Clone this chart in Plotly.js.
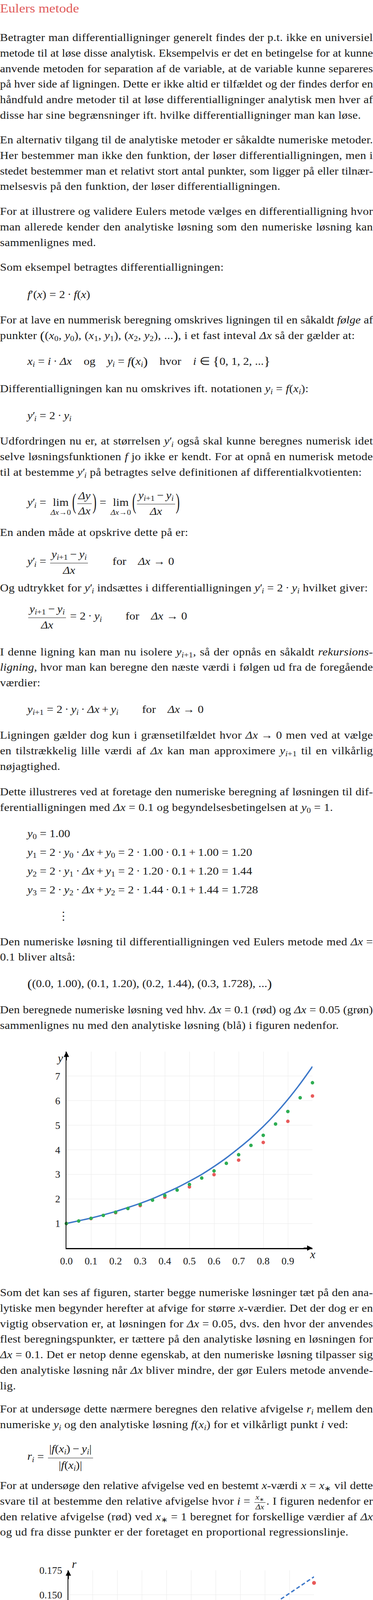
<!DOCTYPE html>
<html lang="da">
<head>
<meta charset="utf-8">
<title>Eulers metode</title>
<script src="https://cdn.plot.ly/plotly-3.0.1.min.js"></script>
<style>
html,body{margin:0;padding:0;background:#fff;}
#page{position:relative;width:955px;height:5994px;overflow:hidden;font-family:"Liberation Serif",serif;font-size:27.5px;color:#1a1a1a;background:#fff;}
.a{position:absolute;left:0;width:868px;line-height:40px;white-space:normal;letter-spacing:0.3px;transform:scaleX(1.1);transform-origin:0 0;}
.j{text-align:justify;text-align-last:justify;}
.e{left:70px;width:auto;white-space:nowrap;letter-spacing:0;}
.title{color:#e05a5a;font-size:32px;letter-spacing:0;}
i{font-style:italic;}
sub{font-size:0.7em;vertical-align:-0.28em;line-height:1;}
.m{display:inline-block;white-space:nowrap;}
.R{margin:0 0.26em;}
.B{margin:0 0.2em;}
.k{margin-left:-0.12em;}
.q{margin:0 1.0em;}
.qq{margin-left:2.0em;margin-right:1.0em;}
.p1{font-size:1.18em;line-height:1;vertical-align:-0.05em;}
.fr{display:inline-block;vertical-align:middle;text-align:center;line-height:1.1;margin:0 2px;}
.fr>span{display:block;padding-left:3px;padding-right:3px;}
.fr>.n{border-bottom:1.3px solid #1a1a1a;padding-bottom:5px;}
.fr>.d{padding-top:3px;}
.sf{font-size:0.7em;line-height:1;}
.sf>.n{padding-bottom:1px;border-bottom-width:1px;}
.sf>.d{padding-top:1px;}
.lim{display:inline-flex;flex-direction:column;align-items:center;vertical-align:baseline;line-height:1;margin:0 3px;}
.lim .ls{font-size:0.68em;margin-top:3px;}
.bp{display:inline-block;transform:scaleY(2.1);transform-origin:50% 15.9px;line-height:27px;}
.mk{display:inline-block;width:0;height:0;}
.chart{position:absolute;left:0;width:955px;}
</style>
</head>
<body>
<div id="page">
  <div id="c1" class="chart" style="top:2640px;height:640px"></div>
  <div id="c2" class="chart" style="top:3970px;height:560px"></div>
  <div id="c3" class="chart" style="top:5380px;height:560px"></div>
</div>
<script>
// ---------------- chart data ----------------
// Chart 1: analytic solution (blue), Euler dx=0.1 (red), Euler dx=0.05 (green)
const xExact = [0,0.05,0.1,0.15,0.2,0.25,0.3,0.35,0.4,0.45,0.5,0.55,0.6,0.65,0.7,0.75,0.8,0.85,0.9,0.95,1.0];
const yExact = [1.00,1.11,1.22,1.35,1.49,1.65,1.82,2.01,2.23,2.46,2.72,3.00,3.32,3.67,4.06,4.48,4.95,5.47,6.05,6.69,7.39];
const xRed = [0,0.1,0.2,0.3,0.4,0.5,0.6,0.7,0.8,0.9,1.0];
const yRed = [1.00,1.20,1.44,1.73,2.07,2.49,2.99,3.58,4.30,5.16,6.19];
const xGreen = [0,0.05,0.1,0.15,0.2,0.25,0.3,0.35,0.4,0.45,0.5,0.55,0.6,0.65,0.7,0.75,0.8,0.85,0.9,0.95,1.0];
const yGreen = [1.00,1.10,1.21,1.33,1.46,1.61,1.77,1.95,2.14,2.36,2.59,2.85,3.14,3.45,3.80,4.18,4.59,5.05,5.56,6.12,6.73];
const xTicks1 = [0,0.1,0.2,0.3,0.4,0.5,0.6,0.7,0.8,0.9,1.0];
const xLabels1 = ['0.0','0.1','0.2','0.3','0.4','0.5','0.6','0.7','0.8','0.9',''];
const yTicks1 = [0,1,2,3,4,5,6,7,8];
const yLabels1 = ['','1','2','3','4','5','6','7',''];

// Chart 2: relative error r vs dx
const dxVals = [0.01,0.02,0.04,0.05,0.1];
const rVals = [0.0195,0.0382,0.0732,0.0896,0.1622];
const xTicks2 = [0,0.01,0.02,0.03,0.04,0.05,0.06,0.07,0.08,0.09,0.1];
const xLabels2 = ['0.00','0.01','0.02','0.03','0.04','0.05','0.06','0.07','0.08','0.09',''];
const yTicks2 = [0,0.025,0.05,0.075,0.1,0.125,0.15,0.175];
const yLabels2 = ['','0.025','0.050','0.075','0.100','0.125','0.150','0.175'];

// Chart 3: relative error r vs n
const nVals = [10,20,25,50,100];
const rByN = [0.1622,0.0896,0.0732,0.0382,0.0195];
const nCurve = [10,12,14,16,18,20,25,30,35,40,50,60,70,80,90,100];
const rCurve = [0.1684,0.1403,0.1203,0.1052,0.0935,0.0842,0.0674,0.0561,0.0481,0.0421,0.0337,0.0281,0.0241,0.0210,0.0187,0.0168];
const xTicks3 = [0,10,20,30,40,50,60,70,80,90,100];
const xLabels3 = ['0','10','20','30','40','50','60','70','80','90','100'];

// ---------------- text ----------------
const DX='<i>Δx</i>';
const YI='<i>y</i><sub><i>i</i></sub>';
const YPI='<i>y</i>′<sub class="k"><i>i</i></sub>';
const YI1='<i>y</i><sub><i>i</i>+1</sub>';
const XI='<i>x</i><sub><i>i</i></sub>';
const FXI='<i>f</i>(<i>x</i><sub><i>i</i></sub>)';
const XS='<i>x</i><sub>∗</sub>';
const EQ='<span class="R">=</span>';
const DOT='<span class="B">·</span>';
const PLUS='<span class="B">+</span>';
const MINUS='<span class="B">−</span>';
const TO='<span class="R">→</span>';
const M=s=>'<span class="m">'+s+'</span>';
const FR=(n,d)=>'<span class="fr"><span class="n">'+n+'</span><span class="d">'+d+'</span></span>';
const SFR=(n,d)=>'<span class="fr sf"><span class="n">'+n+'</span><span class="d">'+d+'</span></span>';
const LIM='<span class="lim"><span>lim</span><span class="ls">'+DX+'→0</span></span>';
const BL='<span class="bp">(</span>', BR='<span class="bp">)</span>';
const T=' ';
const Y=n=>'<i>y</i><sub>'+n+'</sub>';

const LH=39.8;
const blocks=[
 {b:32,title:true,lines:['Eulers metode']},
 {b:105,lines:[
  'Betragter man differentialligninger generelt findes der p.t. ikke en universiel',
  'metode til at løse disse analytisk. Eksempelvis er det en betingelse for at kunne',
  'anvende metoden for separation af de variable, at de variable kunne separeres',
  'på hver side af ligningen. Dette er ikke altid er tilfældet og der findes derfor en',
  'håndfuld andre metoder til at løse differentialligninger analytisk men hver af',
  'disse har sine begrænsninger ift. hvilke differentialligninger man kan løse.']},
 {b:367,lines:[
  'En alternativ tilgang til de analytiske metoder er såkaldte numeriske metoder.',
  'Her bestemmer man ikke den funktion, der løser differentialligningen, men i',
  'stedet bestemmer man et relativt stort antal punkter, som ligger på eller tilnær-',
  'melsesvis på den funktion, der løser differentialligningen.']},
 {b:550,lines:[
  'For at illustrere og validere Eulers metode vælges en differentialligning hvor',
  'man allerede kender den analytiske løsning som den numeriske løsning kan',
  'sammenlignes med.']},
 {b:693,lines:['Som eksempel betragtes differentialligningen:']},
 {b:762.5,eq:'<i>f</i>′(<i>x</i>)'+EQ+'2'+DOT+'<i>f</i>(<i>x</i>)'},
 {b:828,lines:[
  'For at lave en nummerisk beregning omskrives ligningen til en såkaldt <i>følge</i> af',
  'punkter '+M('<span class="p1">(</span>(<i>x</i><sub>0</sub>,'+T+Y(0)+'),'+T+'(<i>x</i><sub>1</sub>,'+T+Y(1)+'),'+T+'(<i>x</i><sub>2</sub>,'+T+Y(2)+'),'+T+'...<span class="p1">)</span>')+', i et fast inteval '+M(DX)+' så der gælder at:']},
 {b:934.4,eq:XI+EQ+'<i>i</i>'+DOT+DX+'<span class="q">og</span>'+YI+EQ+'<i>f</i><span class="p1">(</span>'+XI+'<span class="p1">)</span><span class="q">hvor</span><i>i</i><span class="R">∈</span><span class="p1">{</span>0,'+T+'1,'+T+'2,'+T+'...<span class="p1">}</span>'},
 {b:1003.6,lines:['Differentialligningen kan nu omskrives ift. notationen '+M(YI+EQ+FXI)+':']},
 {b:1072.8,eq:YPI+EQ+'2'+DOT+YI},
 {b:1138.4,lines:[
  'Udfordringen nu er, at størrelsen '+M(YPI)+' også skal kunne beregnes numerisk idet',
  'selve løsningsfunktionen '+M('<i>f</i>')+' jo ikke er kendt. For at opnå en numerisk metode',
  'til at bestemme '+M(YPI)+' på betragtes selve definitionen af differentialkvotienten:']},
 {b:1295,eq:YPI+EQ+LIM+BL+FR('<i>Δy</i>',DX)+BR+EQ+LIM+BL+FR(YI1+MINUS+YI,DX)+BR},
 {b:1372,lines:['En anden måde at opskrive dette på er:']},
 {b:1446,eq:YPI+EQ+FR(YI1+MINUS+YI,DX)+'<span class="qq">for</span>'+DX+TO+'0'},
 {b:1513.5,lines:['Og udtrykket for '+M(YPI)+' indsættes i differentialligningen '+M(YPI+EQ+'2'+DOT+YI)+' hvilket giver:']},
 {b:1586,eq:FR(YI1+MINUS+YI,DX)+EQ+'2'+DOT+YI+'<span class="qq">for</span>'+DX+TO+'0'},
 {b:1677.6,lines:[
  'I denne ligning kan man nu isolere '+M(YI1)+', så der opnås en såkaldt <i>rekursions-</i>',
  '<i>ligning</i>, hvor man kan beregne den næste værdi i følgen ud fra de foregående',
  'værdier:']},
 {b:1825,eq:YI1+EQ+'2'+DOT+YI+DOT+DX+PLUS+YI+'<span class="qq">for</span>'+DX+TO+'0'},
 {b:1891,lines:[
  'Ligningen gælder dog kun i grænsetilfældet hvor '+M(DX+TO+'0')+' men ved at vælge',
  'en tilstrækkelig lille værdi af '+M(DX)+' kan man approximere '+M(YI1)+' til en vilkårlig',
  'nøjagtighed.']},
 {b:2035.7,lines:[
  'Dette illustreres ved at foretage den numeriske beregning af løsningen til dif-',
  'ferentialligningen med '+M(DX+EQ+'0.1')+' og begyndelsesbetingelsen at '+M(Y(0)+EQ+'1')+'.']},
 {b:2143,eq:Y(0)+EQ+'1.00'},
 {b:2191,eq:Y(1)+EQ+'2'+DOT+Y(0)+DOT+DX+PLUS+Y(0)+EQ+'2'+DOT+'1.00'+DOT+'0.1'+PLUS+'1.00'+EQ+'1.20'},
 {b:2239,eq:Y(2)+EQ+'2'+DOT+Y(1)+DOT+DX+PLUS+Y(1)+EQ+'2'+DOT+'1.20'+DOT+'0.1'+PLUS+'1.20'+EQ+'1.44'},
 {b:2287,eq:Y(3)+EQ+'2'+DOT+Y(2)+DOT+DX+PLUS+Y(2)+EQ+'2'+DOT+'1.44'+DOT+'0.1'+PLUS+'1.44'+EQ+'1.728'},
 {b:2354,eq:'<span style="font-family:\'DejaVu Serif\';font-size:28px">⋮</span>',left:147},
 {b:2419.6,lines:[
  'Den numeriske løsning til differentialligningen ved Eulers metode med '+M(DX+'<span class="R" style="margin-right:0">=</span>'),
  '0.1 bliver altså:']},
 {b:2527,eq:'<span class="p1">(</span>(0.0,'+T+'1.00),'+T+'(0.1,'+T+'1.20),'+T+'(0.2,'+T+'1.44),'+T+'(0.3,'+T+'1.728),'+T+'...<span class="p1">)</span>'},
 {b:2593.8,lines:[
  'Den beregnede numeriske løsning ved hhv. '+M(DX+EQ+'0.1')+' (rød) og '+M(DX+EQ+'0.05')+' (grøn)',
  'sammenlignes nu med den analytiske løsning (blå) i figuren nedenfor.']},
 {b:3318,lines:[
  'Som det kan ses af figuren, starter begge numeriske løsninger tæt på den ana-',
  'lytiske men begynder herefter at afvige for større '+M('<i>x</i>')+'-værdier. Det der dog er en',
  'vigtig observation er, at løsningen for '+M(DX+EQ+'0.05')+', dvs. den hvor der anvendes',
  'flest beregningspunkter, er tættere på den analytiske løsning en løsningen for',
  M(DX+EQ+'0.1')+'. Det er netop denne egenskab, at den numeriske løsning tilpasser sig',
  'den analytiske løsning når '+M(DX)+' bliver mindre, der gør Eulers metode anvende-',
  'lig.']},
 {b:3616,lines:[
  'For at undersøge dette nærmere beregnes den relative afvigelse '+M('<i>r</i><sub><i>i</i></sub>')+' mellem den',
  'numeriske '+M(YI)+' og den analytiske løsning '+M(FXI)+' for et vilkårligt punkt '+M('<i>i</i>')+' ved:']},
 {b:3737.5,eq:'<i>r</i><sub><i>i</i></sub>'+EQ+FR('|'+FXI+MINUS+YI+'|','|'+FXI+'|')},
 {b:3812,lines:[
  'For at undersøge den relative afvigelse ved en bestemt '+M('<i>x</i>')+'-værdi '+M('<i>x</i>'+EQ+XS)+' vil dette',
  'svare til at bestemme den relative afvigelse hvor '+M('<i>i</i>'+EQ+SFR(XS,DX))+'. I figuren nedenfor er',
  'den relative afvigelse (rød) ved '+M(XS+EQ+'1')+' beregnet for forskellige værdier af '+M(DX),
  'og ud fra disse punkter er der foretaget en proportional regressionslinje.']},
 {b:4581,lines:[
  'Det ses, at den relative afvigelse er tilnærmelsesvis proportional med størrelsen',
  'på '+M(DX)+' hvilket viser, at man ved Eulers metode kan opnå en vilkårlig lav fejl ved',
  'at vælge en tilstrækkelig lav værdi af '+M(DX)+'.']},
 {b:4723,lines:[
  'Så hvorfor vælger man så ikke en virkelig lav værdi for '+M(DX)+' for at være sikker',
  'på at man har så nøjagtig en beregning som muligt? Grunden til dette er, at jo',
  'lavere en værdi man vælger for '+M(DX)+', jo flere punkter skal man beregne for at',
  'nå frem til en bestemt '+M('<i>x</i>')+'-værdi. Antallet af punkter '+M('<i>n</i>')+' der skal beregnes for at',
  'løsningen når frem til en bestemt '+M('<i>x</i>')+'-værdi '+M(XS)+' kan beregnes ved:']},
 {b:4950.7,eq:'<i>n</i>'+EQ+FR(XS,DX)},
 {b:5018.6,lines:[
  'Heraf ses at '+M(DX)+' forekommer i nævneren hvilket vil sige at når '+M(DX)+' bliver en lille',
  'talværdi bliver '+M('<i>n</i>')+' stor en stor talværdi.']},
 {b:5120.4,lines:[
  'Størrelsen af '+M('<i>n</i>')+' dvs. hvor mange punkter der skal beregnes i den numeriske',
  'løsning er med andre ord prisen for den numeriske beregning da den direkte',
  'kan omsættes til hvor lang tid og hvor meget strøm en computer bruger for at',
  'beregne løsningen.']},
 {b:5305,lines:[
  'Den relative afvigelse er i nedenstående figur plottet ift. antallet af beregnings-',
  'punkter '+M('<i>n</i>')+' for forskellige værdier af '+M(DX)+'.']}
];

const page=document.getElementById('page');
const placed=[];
blocks.forEach(bk=>{
  if(bk.eq!==undefined){
    const d=document.createElement('div');
    d.className='a e';
    d.innerHTML=bk.eq;
    if(bk.left!==undefined) d.style.left=bk.left+'px';
    page.appendChild(d);
    placed.push([d,bk.b]);
  } else {
    bk.lines.forEach((ln,k)=>{
      const d=document.createElement('div');
      const last=(k===bk.lines.length-1);
      d.className='a'+(bk.title?' title':'')+(last?'':' j');
      d.innerHTML=ln;
      page.appendChild(d);
      placed.push([d,bk.b+k*LH]);
    });
  }
});
function fit(el){
  let ls=0.3, fs=27.5;
  while(el.offsetHeight>50 && ls>-0.5){ls-=0.1;el.style.letterSpacing=ls+'px';}
  while(el.offsetHeight>50 && fs>22){fs-=0.5;el.style.fontSize=fs+'px';}
}
function layoutText(){
  placed.forEach(([el,b])=>{
    el.style.top='0px';
    if(!el.classList.contains('e') && !el.classList.contains('title')) fit(el);
    let mk=el.querySelector(':scope > .mk');
    if(!mk){mk=document.createElement('span');mk.className='mk';el.insertBefore(mk,el.firstChild);}
    const r0=el.getBoundingClientRect().top, r1=mk.getBoundingClientRect().top;
    el.style.top=(b-(r1-r0))+'px';
  });
}
layoutText();
if(document.fonts && document.fonts.ready){document.fonts.ready.then(layoutText);}

// ---------------- charts ----------------
const MF='Liberation Serif';
const TF={family:MF,size:26,color:'#1a1a1a'};
const BLUE='#3d78c9', RED='#e85a5a', GREEN='#2ead52';
function axisBase(){return {showgrid:true,gridcolor:'#ebebeb',gridwidth:1,zeroline:false,showline:true,linecolor:'#000',linewidth:2.5,ticks:'',tickfont:TF,fixedrange:true,layer:'above traces'};}
function arrow(x,y,ax,ay){return {x:x,y:y,xref:'x',yref:'y',ax:ax,ay:ay,axref:'pixel',ayref:'pixel',text:'',showarrow:true,arrowhead:2,arrowsize:1.1,arrowwidth:2.5,arrowcolor:'#000',standoff:0,startstandoff:0};}
function lab(x,y,t,xs,ys){return {x:x,y:y,xref:'x',yref:'y',text:t,showarrow:false,xshift:xs,yshift:ys,font:{family:MF,size:30,color:'#1a1a1a'},xanchor:'center',yanchor:'middle'};}
const cfg={staticPlot:true,displayModeBar:false,responsive:false};

Plotly.newPlot('c1',[
  {x:xExact,y:yExact,mode:'lines',line:{color:BLUE,width:3.5,shape:'spline'},hoverinfo:'skip'},
  {x:xRed,y:yRed,mode:'markers',marker:{color:RED,size:9},cliponaxis:false},
  {x:xGreen,y:yGreen,mode:'markers',marker:{color:GREEN,size:9},cliponaxis:false}
],{
  width:955,height:640,margin:{l:170,r:155,t:52,b:85},showlegend:false,
  paper_bgcolor:'rgba(0,0,0,0)',plot_bgcolor:'#fff',
  xaxis:Object.assign(axisBase(),{range:[0,1],tickmode:'array',tickvals:xTicks1,ticktext:xLabels1,ticklabelstandoff:8}),
  yaxis:Object.assign(axisBase(),{range:[0,8],tickmode:'array',tickvals:yTicks1,ticktext:yLabels1,ticklabelstandoff:8}),
  annotations:[arrow(1,0,-24,0),arrow(0,8,0,24),lab(0,8,'<i>y</i>',-17,-16),lab(1,0,'<i>x</i>',0,-15)]
},cfg);

let sxy=0,sxx=0;dxVals.forEach((x,i)=>{sxy+=x*rVals[i];sxx+=x*x;});
const kFit=sxy/sxx;
const xFit=[0,0.1];
const yFit=xFit.map(x=>kFit*x);

Plotly.newPlot('c2',[
  {x:xFit,y:yFit,mode:'lines',line:{color:BLUE,width:3.5,dash:'10px,6px'},hoverinfo:'skip'},
  {x:dxVals,y:rVals,mode:'markers',marker:{color:RED,size:10},cliponaxis:false}
],{
  width:955,height:560,margin:{l:175,r:151,t:50,b:70},showlegend:false,
  paper_bgcolor:'rgba(0,0,0,0)',plot_bgcolor:'#fff',
  xaxis:Object.assign(axisBase(),{range:[0,0.1],tickmode:'array',tickvals:xTicks2,ticktext:xLabels2,ticklabelstandoff:8}),
  yaxis:Object.assign(axisBase(),{range:[0,0.175],tickmode:'array',tickvals:yTicks2,ticktext:yLabels2,ticklabelstandoff:8}),
  annotations:[arrow(0.1,0,-24,0),arrow(0,0.175,0,24),lab(0,0.175,'<i>r</i>',15,17),lab(0.1,0,'<i>Δx</i>',27,16)]
},cfg);

Plotly.newPlot('c3',[
  {x:nCurve,y:rCurve,mode:'lines',line:{color:BLUE,width:3.5,dash:'10px,6px',shape:'spline'},hoverinfo:'skip'},
  {x:nVals,y:rByN,mode:'markers',marker:{color:RED,size:10},cliponaxis:false}
],{
  width:955,height:560,margin:{l:183,r:142,t:52,b:67},showlegend:false,
  paper_bgcolor:'rgba(0,0,0,0)',plot_bgcolor:'#fff',
  xaxis:Object.assign(axisBase(),{range:[0,100],tickmode:'array',tickvals:xTicks3,ticktext:xLabels3,ticklabelstandoff:8}),
  yaxis:Object.assign(axisBase(),{range:[0,0.175],tickmode:'array',tickvals:yTicks2,ticktext:yLabels2,ticklabelstandoff:8}),
  annotations:[arrow(100,0,-24,0),arrow(0,0.175,0,24),lab(0,0.175,'<i>r</i>',16,16),lab(100,0,'<i>n</i>',18,15)]
},cfg);
</script>
</body>
</html>
